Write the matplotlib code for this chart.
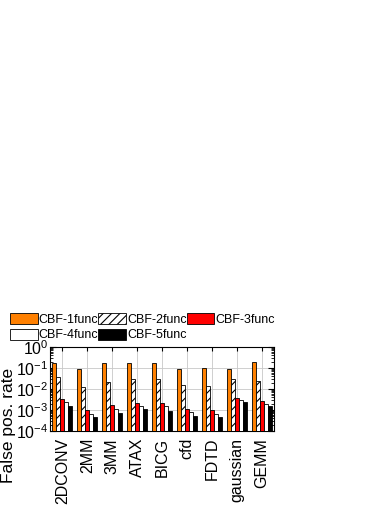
import numpy as np
import matplotlib.pyplot as plt
from matplotlib.ticker import LogLocator, NullFormatter

plt.rcParams["font.family"] = ["Liberation Sans", "DejaVu Sans"]
plt.rcParams["mathtext.fontset"] = "custom"
plt.rcParams["mathtext.rm"] = "Liberation Sans"
plt.rcParams["mathtext.it"] = "Liberation Sans:italic"
plt.rcParams["axes.unicode_minus"] = False
plt.rcParams["hatch.linewidth"] = 0.8

benchmarks = ["2DCONV", "2MM", "3MM", "ATAX", "BICG", "cfd", "FDTD", "gaussian", "GEMM"]
series = ["CBF-1func", "CBF-2func", "CBF-3func", "CBF-4func", "CBF-5func"]

cbf1 = [0.17, 0.094, 0.17, 0.17, 0.17, 0.087, 0.10, 0.094, 0.195]
cbf2 = [0.039, 0.013, 0.022, 0.029, 0.029, 0.016, 0.014, 0.029, 0.025]
cbf3 = [0.0032, 0.00085, 0.0016, 0.0020, 0.0020, 0.0010, 0.00085, 0.0037, 0.0025]
cbf4 = [0.0024, 0.00056, 0.0010, 0.0015, 0.0014, 0.0007, 0.00056, 0.0030, 0.0019]
cbf5 = [0.0014, 0.00034, 0.00059, 0.0010, 0.00076, 0.00044, 0.00034, 0.0022, 0.0015]

values = [cbf1, cbf2, cbf3, cbf4, cbf5]
faces = ["#ff8000", "white", "#ff0000", "white", "black"]
hatches = [None, "////", None, None, None]

fig = plt.figure(figsize=(3.9, 5.05), dpi=100)
ax = fig.add_axes([0.128, 0.1465, 0.575, 0.1665])

x = np.arange(len(benchmarks))
w = 0.16
bars = []
for i, (vals, fc, h, name) in enumerate(zip(values, faces, hatches, series)):
    b = ax.bar(x + (i - 2) * w, vals, w, bottom=1e-4, color=fc, edgecolor="black",
               linewidth=0.6, hatch=h, label=name, zorder=3)
    bars.append(b)

ax.set_yscale("log")
ax.set_ylim(1e-4, 1)
ax.set_xlim(-0.5, len(benchmarks) - 0.5)
ax.yaxis.set_major_locator(LogLocator(base=10, numticks=10))
ax.yaxis.set_minor_locator(LogLocator(base=10, subs=np.arange(2, 10), numticks=10))
ax.yaxis.set_minor_formatter(NullFormatter())
ax.set_xticks(x)
ax.set_xticklabels(benchmarks, rotation=90, fontsize=11.5)
ax.tick_params(axis="both", which="both", direction="in", top=True, right=True)
ax.tick_params(axis="y", which="major", labelsize=11.5, length=4, pad=1)
ax.tick_params(axis="y", which="minor", length=2)
ax.tick_params(axis="x", length=3, pad=5)
ax.grid(True, which="major", color="#c8c8c8", linewidth=0.6, zorder=0)
ax.set_axisbelow(True)
ax.set_ylabel("False pos. rate", fontsize=12.5)
ax.yaxis.set_label_coords(-0.15, 0.07)

# row-major legend order: 1,2,3 on top row, 4,5 below
order = [0, 3, 1, 4, 2]
fig.legend([bars[k] for k in order], [series[k] for k in order],
           loc="upper left", bbox_to_anchor=(10 / 390, 1 - 313 / 505), ncol=3,
           frameon=False, fontsize=9, handlelength=2.2, handleheight=0.95,
           handletextpad=0.1, columnspacing=0.0, labelspacing=0.25, borderpad=0,
           borderaxespad=0)

fig.savefig("out.png", dpi=100)
